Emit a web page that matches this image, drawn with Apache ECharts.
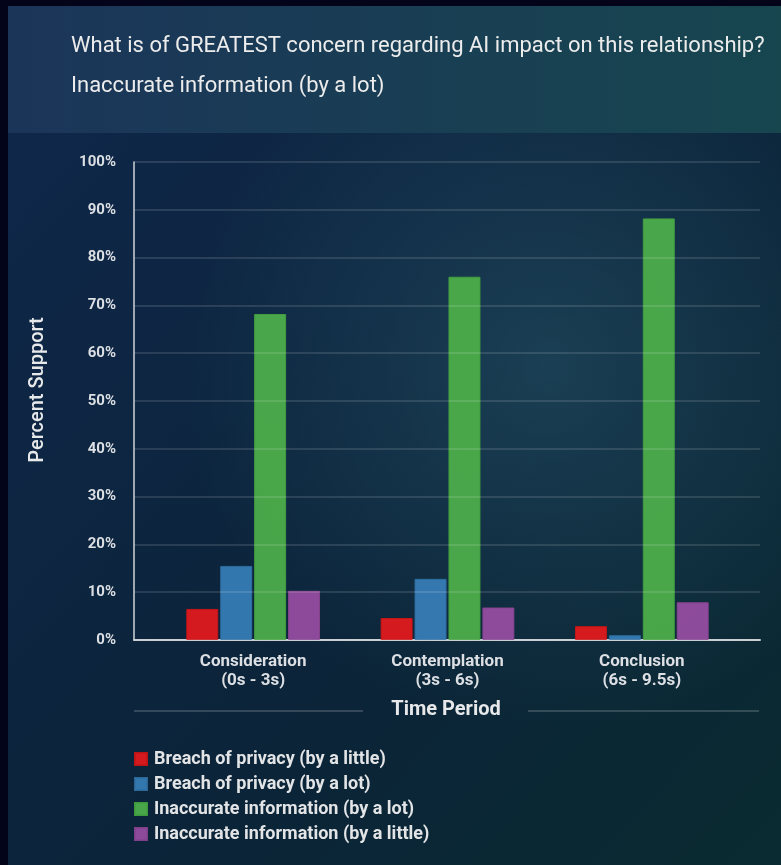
<!DOCTYPE html>
<html>
<head>
<meta charset="utf-8">
<title>AI concern chart</title>
<script src="https://cdn.jsdelivr.net/npm/echarts@6/dist/echarts.min.js"></script>
<style>
  html, body { margin: 0; padding: 0; background: #03031a; }
  #main { width: 781px; height: 865px; }
</style>
</head>
<body>
<div id="main"></div>
<script>
// data
var categories = ['Consideration\n(0s - 3s)', 'Contemplation\n(3s - 6s)', 'Conclusion\n(6s - 9.5s)'];
var seriesNames = [
  'Breach of privacy (by a little)',
  'Breach of privacy (by a lot)',
  'Inaccurate information (by a lot)',
  'Inaccurate information (by a little)'
];
var privacyLittle = [6.5, 4.6, 2.9];
var privacyLot = [15.5, 12.8, 1.0];
var inaccurateLot = [68.2, 76.0, 88.2];
var inaccurateLittle = [10.3, 6.8, 7.9];
var yTicks = [0, 10, 20, 30, 40, 50, 60, 70, 80, 90, 100];

var colors = ['#e41a1c', '#377eb8', '#4daf4a', '#984ea3'];
var borders = ['#c81416', '#2f6fa3', '#43a040', '#86438f'];
var font = 'Roboto, "Noto Sans", sans-serif';
var labelColor = '#dcdfe3';

var chart = echarts.init(document.getElementById('main'), null, { renderer: 'canvas' });

function makeBar(name, values, i) {
  return {
    name: name,
    type: 'bar',
    xAxisIndex: 1,
    yAxisIndex: 1,
    barWidth: 32,
    barGap: '6%',
    data: values,
    itemStyle: {
      color: colors[i],
      opacity: 0.93,
      borderColor: borders[i],
      borderWidth: 1
    }
  };
}

var option = {
  backgroundColor: '#03031a',
  animation: false,
  textStyle: { fontFamily: font },
  title: [
    {
      text: 'What is of GREATEST concern regarding AI impact on this relationship?',
      left: 71,
      top: 35,
      padding: 0,
      textStyle: { color: '#ececec', fontSize: 22, fontWeight: 'normal', fontFamily: font }
    },
    {
      text: 'Inaccurate information (by a lot)',
      left: 71,
      top: 75,
      padding: 0,
      textStyle: { color: '#ececec', fontSize: 22, fontWeight: 'normal', fontFamily: font }
    }
  ],
  legend: {
    orient: 'vertical',
    left: 134,
    top: 749,
    padding: 0,
    icon: 'rect',
    itemWidth: 12,
    itemHeight: 12,
    itemGap: 5,
    data: seriesNames,
    textStyle: { color: '#e2e4e6', fontSize: 18, fontWeight: 'bold', lineHeight: 20, padding: [0, 0, 0, 2] }
  },
  grid: [
    // axis frame + gridlines
    { left: 134, right: 21, top: 162, bottom: 225 },
    // bars (categories sit a bit inside the frame)
    { left: 156, right: 42, top: 162, bottom: 225 }
  ],
  xAxis: [
    {
      type: 'value',
      gridIndex: 0,
      min: 0,
      max: 1,
      axisLine: { show: true, lineStyle: { color: '#c3c9ce', width: 2 } },
      axisTick: { show: false },
      axisLabel: { show: false },
      splitLine: { show: false }
    },
    {
      type: 'category',
      gridIndex: 1,
      data: categories,
      axisLine: { show: false },
      axisTick: { show: false },
      axisLabel: {
        color: labelColor,
        fontSize: 17,
        fontWeight: 'bold',
        lineHeight: 19,
        margin: 12
      }
    }
  ],
  yAxis: [
    {
      type: 'value',
      gridIndex: 0,
      min: yTicks[0],
      max: yTicks[yTicks.length - 1],
      interval: 10,
      z: 5,
      axisLine: { show: true, lineStyle: { color: '#cfd4d8', width: 1.5 } },
      axisTick: { show: false },
      axisLabel: {
        color: labelColor,
        fontSize: 15,
        fontWeight: 'bold',
        margin: 18,
        formatter: '{value}%'
      },
      splitLine: { show: true, lineStyle: { color: 'rgba(255,255,255,0.16)', width: 1.5 } }
    },
    {
      type: 'value',
      gridIndex: 1,
      min: 0,
      max: 100,
      show: false
    }
  ],
  graphic: [
    // panel background
    {
      type: 'rect', z: -10, silent: true,
      shape: { x: 8, y: 6, width: 773, height: 127 },
      style: {
        fill: new echarts.graphic.LinearGradient(0, 0, 1, 0, [
          { offset: 0, color: '#1b3559' },
          { offset: 1, color: '#17464f' }
        ])
      }
    },
    {
      type: 'rect', z: -10, silent: true,
      shape: { x: 8, y: 133, width: 773, height: 732 },
      style: {
        fill: new echarts.graphic.LinearGradient(0, 0, 1, 1, [
          { offset: 0, color: '#0f2749' },
          { offset: 0.6, color: '#0b2438' },
          { offset: 1, color: '#0a2b31' }
        ])
      }
    },
    {
      type: 'rect', z: -9, silent: true,
      shape: { x: 8, y: 133, width: 773, height: 732 },
      style: {
        fill: new echarts.graphic.RadialGradient(0.7, 0.32, 0.5, [
          { offset: 0, color: 'rgba(45,95,115,0.45)' },
          { offset: 1, color: 'rgba(45,95,115,0)' }
        ])
      }
    },
    // y axis title
    {
      type: 'text', silent: true,
      x: 38, y: 390,
      rotation: Math.PI / 2,
      style: {
        text: 'Percent Support',
        fill: '#e6e8ea',
        font: '500 20px ' + font,
        textAlign: 'center',
        textVerticalAlign: 'middle'
      }
    },
    // x axis title with the rules either side
    {
      type: 'text', silent: true,
      x: 446, y: 710,
      style: {
        text: 'Time Period',
        fill: '#e6e8ea',
        font: 'bold 20px ' + font,
        textAlign: 'center',
        textVerticalAlign: 'middle'
      }
    },
    {
      type: 'line', silent: true,
      shape: { x1: 134, y1: 711, x2: 363, y2: 711 },
      style: { stroke: 'rgba(255,255,255,0.17)', lineWidth: 2 }
    },
    {
      type: 'line', silent: true,
      shape: { x1: 528, y1: 711, x2: 759, y2: 711 },
      style: { stroke: 'rgba(255,255,255,0.17)', lineWidth: 2 }
    }
  ],
  series: [
    makeBar(seriesNames[0], privacyLittle, 0),
    makeBar(seriesNames[1], privacyLot, 1),
    makeBar(seriesNames[2], inaccurateLot, 2),
    makeBar(seriesNames[3], inaccurateLittle, 3)
  ]
};

chart.setOption(option);
</script>
</body>
</html>
